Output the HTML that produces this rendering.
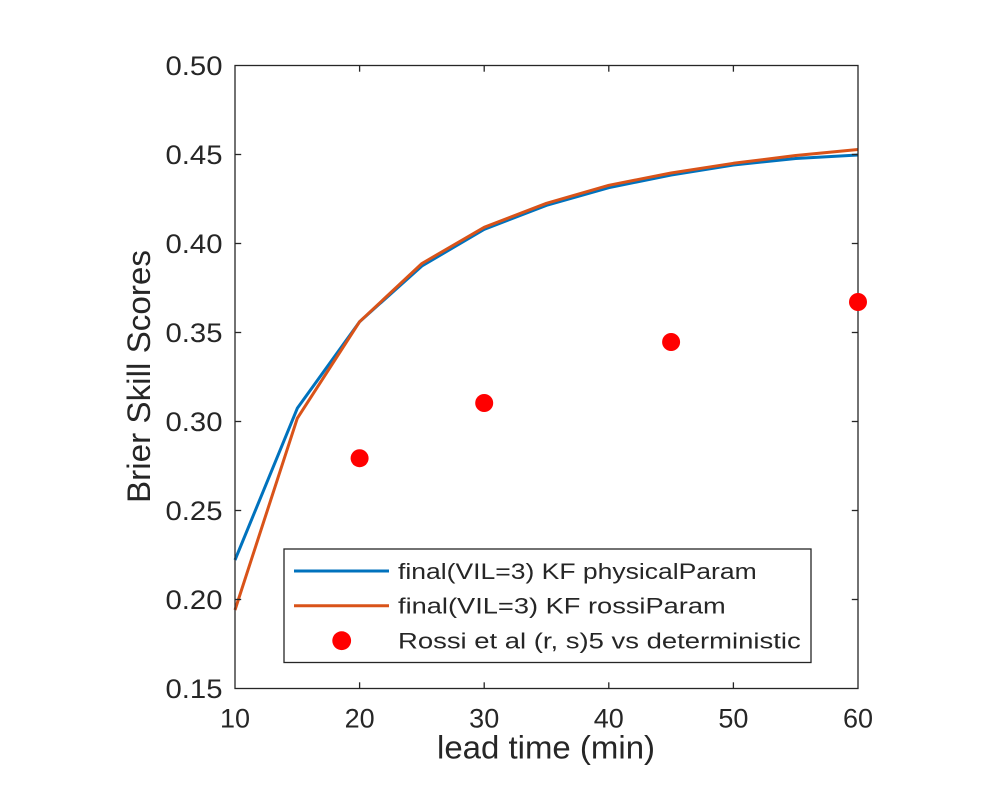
<!DOCTYPE html>
<html>
<head>
<meta charset="utf-8">
<style>
  html, body { margin: 0; padding: 0; background: #ffffff; }
  svg { display: block; }
  text { font-family: "Liberation Sans", Arial, sans-serif; fill: #262626; }
</style>
</head>
<body>
<svg width="1000" height="800" viewBox="0 0 1000 800" xmlns="http://www.w3.org/2000/svg">
  <rect x="0" y="0" width="1000" height="800" fill="#ffffff"/>

  <rect x="235" y="65.5" width="623" height="623" fill="#ffffff"/>

  <polyline fill="none" stroke="#0072BD" stroke-width="3" stroke-linejoin="round"
    points="235,560 297.3,408.3 359.6,321.7 421.9,266 484.2,229.3 546.5,205.3 608.8,187.7 671.1,175 733.4,165 795.7,158.5 858,155"/>
  <polyline fill="none" stroke="#D95319" stroke-width="3" stroke-linejoin="round"
    points="235,610 297.3,418.3 359.6,321.7 421.9,263.5 484.2,227.3 546.5,203.3 608.8,185.3 671.1,173 733.4,163.3 795.7,155.5 858,149.5"/>

  <rect x="235" y="65.5" width="623" height="623" fill="none" stroke="#262626" stroke-width="1.3"/>

  <g stroke="#262626" stroke-width="1.3">
    <line x1="235" y1="154.5" x2="241.2" y2="154.5"/>
    <line x1="235" y1="243.5" x2="241.2" y2="243.5"/>
    <line x1="235" y1="332.5" x2="241.2" y2="332.5"/>
    <line x1="235" y1="421.5" x2="241.2" y2="421.5"/>
    <line x1="235" y1="510.5" x2="241.2" y2="510.5"/>
    <line x1="235" y1="599.5" x2="241.2" y2="599.5"/>
    <line x1="858" y1="154.5" x2="851.8" y2="154.5"/>
    <line x1="858" y1="243.5" x2="851.8" y2="243.5"/>
    <line x1="858" y1="332.5" x2="851.8" y2="332.5"/>
    <line x1="858" y1="421.5" x2="851.8" y2="421.5"/>
    <line x1="858" y1="510.5" x2="851.8" y2="510.5"/>
    <line x1="858" y1="599.5" x2="851.8" y2="599.5"/>
    <line x1="359.6" y1="688.5" x2="359.6" y2="682.3"/>
    <line x1="484.2" y1="688.5" x2="484.2" y2="682.3"/>
    <line x1="608.8" y1="688.5" x2="608.8" y2="682.3"/>
    <line x1="733.4" y1="688.5" x2="733.4" y2="682.3"/>
    <line x1="359.6" y1="65.5" x2="359.6" y2="71.7"/>
    <line x1="484.2" y1="65.5" x2="484.2" y2="71.7"/>
    <line x1="608.8" y1="65.5" x2="608.8" y2="71.7"/>
    <line x1="733.4" y1="65.5" x2="733.4" y2="71.7"/>
  </g>

  <g font-size="27" text-anchor="end">
    <text x="222.5" y="75" textLength="57" lengthAdjust="spacingAndGlyphs">0.50</text>
    <text x="222.5" y="164" textLength="57" lengthAdjust="spacingAndGlyphs">0.45</text>
    <text x="222.5" y="253" textLength="57" lengthAdjust="spacingAndGlyphs">0.40</text>
    <text x="222.5" y="342" textLength="57" lengthAdjust="spacingAndGlyphs">0.35</text>
    <text x="222.5" y="431" textLength="57" lengthAdjust="spacingAndGlyphs">0.30</text>
    <text x="222.5" y="520" textLength="57" lengthAdjust="spacingAndGlyphs">0.25</text>
    <text x="222.5" y="609" textLength="57" lengthAdjust="spacingAndGlyphs">0.20</text>
    <text x="222.5" y="698" textLength="57" lengthAdjust="spacingAndGlyphs">0.15</text>
  </g>

  <g font-size="27" text-anchor="middle">
    <text x="235" y="727.5">10</text>
    <text x="359.6" y="727.5">20</text>
    <text x="484.2" y="727.5">30</text>
    <text x="608.8" y="727.5">40</text>
    <text x="733.4" y="727.5">50</text>
    <text x="858" y="727.5">60</text>
  </g>

  <text x="546" y="758.3" font-size="32" text-anchor="middle" textLength="218" lengthAdjust="spacingAndGlyphs">lead time (min)</text>
  <text transform="translate(150,376.5) rotate(-90)" x="0" y="0" font-size="32" text-anchor="middle" textLength="253" lengthAdjust="spacingAndGlyphs">Brier Skill Scores</text>

  <rect x="284" y="549" width="527" height="113.5" fill="#ffffff" stroke="#262626" stroke-width="1.3"/>
  <line x1="294" y1="571" x2="389" y2="571" stroke="#0072BD" stroke-width="3"/>
  <line x1="294" y1="605.7" x2="389" y2="605.7" stroke="#D95319" stroke-width="3"/>
  <circle cx="341.7" cy="640.7" r="9.4" fill="#FF0000"/>
  <g font-size="22.5">
    <text x="398" y="579" textLength="358.7" lengthAdjust="spacingAndGlyphs">final(VIL=3) KF physicalParam</text>
    <text x="398" y="613.7" textLength="327.7" lengthAdjust="spacingAndGlyphs">final(VIL=3) KF rossiParam</text>
    <text x="398" y="648.7" textLength="402.7" lengthAdjust="spacingAndGlyphs">Rossi et al (r, s)5 vs deterministic</text>
  </g>

  <g fill="#FF0000">
    <circle cx="359.6" cy="458.2" r="9"/>
    <circle cx="484.2" cy="403" r="9"/>
    <circle cx="671.1" cy="342" r="9"/>
    <circle cx="858" cy="302" r="9"/>
  </g>
</svg>
</body>
</html>
